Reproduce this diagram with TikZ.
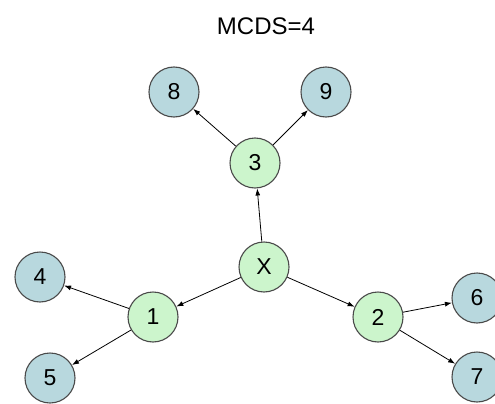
\documentclass[tikz,border=0pt]{standalone}
\usepackage{fontspec}
\setmainfont{Liberation Sans}
\usetikzlibrary{arrows.meta}
\definecolor{gfill}{HTML}{CCF5CC}
\definecolor{bfill}{HTML}{B8D8DE}
\definecolor{edgec}{HTML}{4A4A4A}
\begin{document}
\begin{tikzpicture}[x=1pt,y=-1pt,
  vtx/.style={circle,draw=edgec,line width=1.1pt,minimum size=50pt,inner sep=0pt,font=\fontsize{23}{23}\selectfont},
  gnode/.style={vtx,fill=gfill},
  bnode/.style={vtx,fill=bfill},
  arr/.style={-{Latex[length=7pt,width=5pt]},line width=0.8pt,black}]
\useasboundingbox (0,0) rectangle (495,404);
\clip (0,0) rectangle (495,404);
\node (title) at (266,26) {\fontsize{24}{24}\selectfont MCDS=4};
\node[gnode] (X) at (264,267) {X};
\node[gnode] (n3) at (255,163) {3};
\node[gnode] (n1) at (153,317) {1};
\node[gnode] (n2) at (378,317) {2};
\node[bnode] (n8) at (174,92) {8};
\node[bnode] (n9) at (326,92) {9};
\node[bnode] (n4) at (40,277) {4};
\node[bnode] (n5) at (50,378) {5};
\node[bnode] (n6) at (477,298) {6};
\node[bnode] (n7) at (477,377) {7};
\draw[arr] (X) -- (n3);
\draw[arr] (X) -- (n1);
\draw[arr] (X) -- (n2);
\draw[arr] (n3) -- (n8);
\draw[arr] (n3) -- (n9);
\draw[arr] (n1) -- (n4);
\draw[arr] (n1) -- (n5);
\draw[arr] (n2) -- (n6);
\draw[arr] (n2) -- (n7);
\end{tikzpicture}
\end{document}
